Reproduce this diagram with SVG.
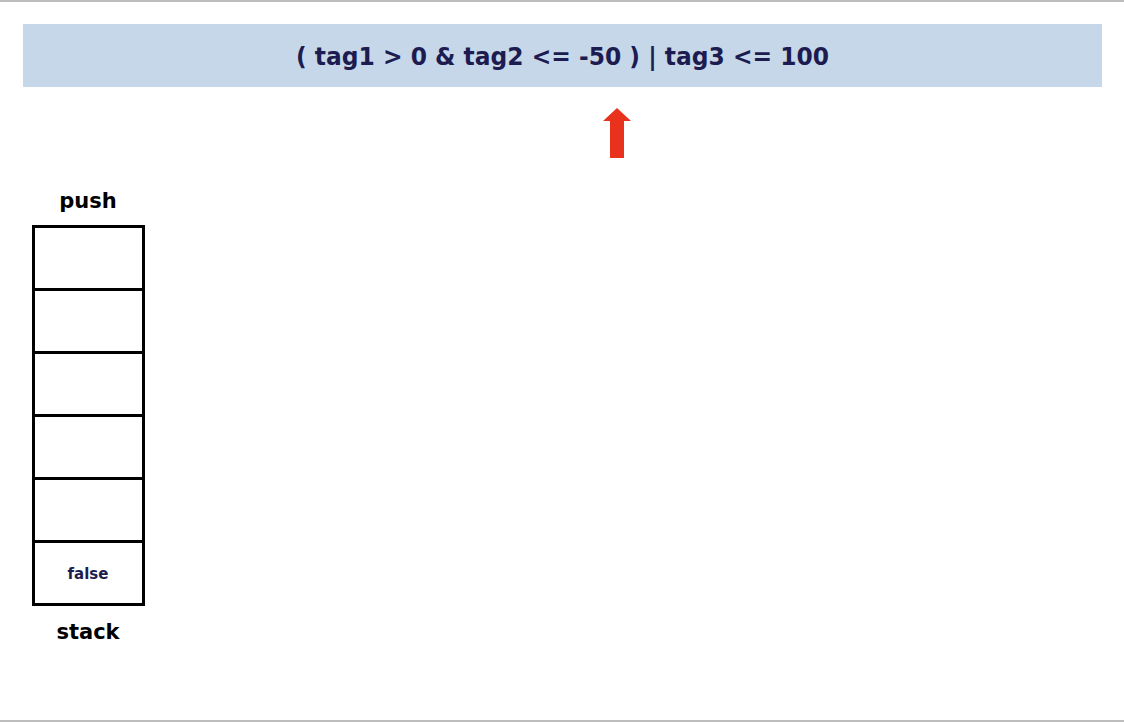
<svg xmlns="http://www.w3.org/2000/svg" width="1124" height="722" viewBox="0 0 1124 722">
<style>
.lbl{font-family:"DejaVu Sans","Liberation Sans",sans-serif;font-weight:bold;fill:#000;text-anchor:middle}
.cell{fill:#fff;stroke:#000;stroke-width:3}
</style>
<rect width="1124" height="722" fill="#fff"/>
<line x1="0" y1="1" x2="1124" y2="1" stroke="#bdbdbd" stroke-width="2"/>
<line x1="0" y1="721" x2="1124" y2="721" stroke="#bdbdbd" stroke-width="2"/>
<g id="expression">
<rect x="23" y="24" width="1079" height="63" fill="#c6d7ea"/>
<text x="562.5" y="65" font-family="DejaVu Sans, sans-serif" font-weight="bold" font-size="24" fill="#1c1c50" text-anchor="middle" textLength="533" lengthAdjust="spacingAndGlyphs">( tag1 &gt; 0 &amp; tag2 &lt;= -50 ) | tag3 &lt;= 100</text>
</g>
<g id="pointer">
<polygon points="617,108 631,121 624,121 624,158 610,158 610,121 603,121" fill="#e8321e"/>
</g>
<g id="stack">
<text class="lbl" x="88" y="208" font-size="21">push</text>
<rect class="cell" x="33.5" y="226.5" width="110" height="63"/>
<rect class="cell" x="33.5" y="289.5" width="110" height="63"/>
<rect class="cell" x="33.5" y="352.5" width="110" height="63"/>
<rect class="cell" x="33.5" y="415.5" width="110" height="63"/>
<rect class="cell" x="33.5" y="478.5" width="110" height="63"/>
<rect class="cell" x="33.5" y="541.5" width="110" height="63"/>
<text x="88" y="579" font-family="DejaVu Sans, sans-serif" font-weight="bold" font-size="15" fill="#1c1c50" text-anchor="middle">false</text>
<text class="lbl" x="88" y="639" font-size="21">stack</text>
</g>
</svg>
